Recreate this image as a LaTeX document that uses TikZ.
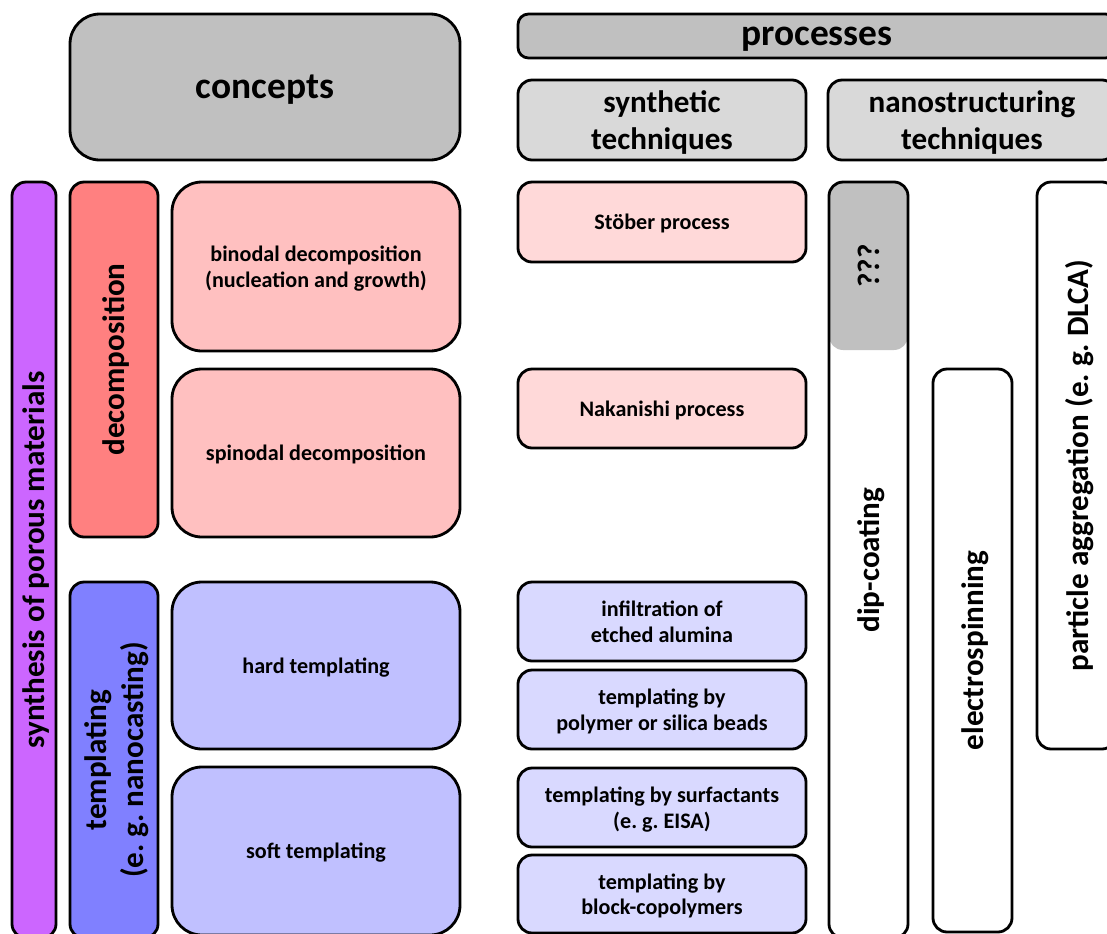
\documentclass[tikz,border=0pt]{standalone}
\usepackage{fontspec}
\setmainfont{Carlito}
\usetikzlibrary{positioning}

\definecolor{headgray}{HTML}{C0C0C0}
\definecolor{subgray}{HTML}{D9D9D9}
\definecolor{porouspurple}{HTML}{CC66FF}
\definecolor{decored}{HTML}{FF8080}
\definecolor{decopink}{HTML}{FFC0C0}
\definecolor{decolight}{HTML}{FFD9D9}
\definecolor{templblue}{HTML}{8080FF}
\definecolor{templlav}{HTML}{C0C0FF}
\definecolor{templlight}{HTML}{D9D9FF}

\begin{document}
\frenchspacing
\begin{tikzpicture}[
  x=0.02cm, y=-0.02cm,
  box/.style = {draw, line width=1.6pt, rounded corners=8pt, align=center,
                inner sep=0pt, text depth=0pt, font=\bfseries\fontsize{12.6}{14.5}\selectfont},
  size/.style 2 args = {minimum width=#1*0.02cm, minimum height=#2*0.02cm},
  bigbox/.style = {box, rounded corners=17pt},
  header/.style = {box, font=\bfseries\fontsize{17.7}{21}\selectfont},
  mid/.style = {font=\bfseries\fontsize{17.7}{21}\selectfont},
  large/.style = {font=\bfseries\fontsize{21.3}{25}\selectfont},
  upright/.style = {rotate=90}
]

% Canvas
\useasboundingbox (0,0) rectangle (1107,934);
\clip (0,0) rectangle (1107,934);

% Headers
\node[header, bigbox, large, fill=headgray, size={390}{146}] (concepts) at (265,87) {concepts};
\node[header, large, rounded corners=6pt, fill=headgray, size={598}{44}] (processes) at (817,36) {processes};
\node[header, fill=subgray, size={288}{80}] (synth) at (662,120) {synthetic\\techniques};
\node[header, fill=subgray, size={288}{80}] (nano) at (972,120) {nanostructuring\\techniques};

% Concepts column
\node[box, mid, upright, fill=porouspurple, size={756}{44}] (porous) at (34,560) {synthesis of porous materials};
\node[box, mid, upright, fill=decored, size={355}{88}] (decomp) at (114,359.5) {decomposition};
\node[box, mid, upright, fill=templblue, size={356}{88}] (templ) at (114,760) {templating\\(e. g. nanocasting)};

\node[bigbox, fill=decopink, size={288}{169}] (binodal) at (316,266.5) {binodal decomposition\\(nucleation and growth)};
\node[bigbox, fill=decopink, size={288}{168}] (spinodal) at (316,453) {spinodal decomposition};
\node[bigbox, fill=templlav, size={288}{167}] (hard) at (316,665.5) {hard templating};
\node[bigbox, fill=templlav, size={288}{168}] (soft) at (316,851) {soft templating};

% Synthetic techniques
\node[box, fill=decolight, size={288}{80}] (stoeber) at (662,222) {Stöber process};
\node[box, fill=decolight, size={288}{79}] (nakanishi) at (662,408.5) {Nakanishi process};
\node[box, fill=templlight, size={288}{79}] (alumina) at (662,621.5) {infiltration of\\etched alumina};
\node[box, fill=templlight, size={288}{79}] (beads) at (662,709.5) {templating by\\polymer or silica beads};
\node[box, fill=templlight, size={288}{79}] (surfact) at (662,807.5) {templating by surfactants\\(e. g. EISA)};
\node[box, fill=templlight, size={288}{78}] (blockcop) at (662,894) {templating by\\block-copolymers};

% Nanostructuring techniques
\node[box, mid, draw=none, upright, fill=headgray, size={168}{79}] (unknown) at (868.5,266) {???};
\node[box, mid, upright, size={756}{79}] (dip) at (868.5,560) {dip-coating};
\node[box, mid, upright, size={563}{79}] (electro) at (972.5,650.5) {electrospinning};
\node[box, mid, upright, size={567}{79}] (aggreg) at (1076.5,465.5) {particle aggregation (e. g. DLCA)};

\end{tikzpicture}
\end{document}
